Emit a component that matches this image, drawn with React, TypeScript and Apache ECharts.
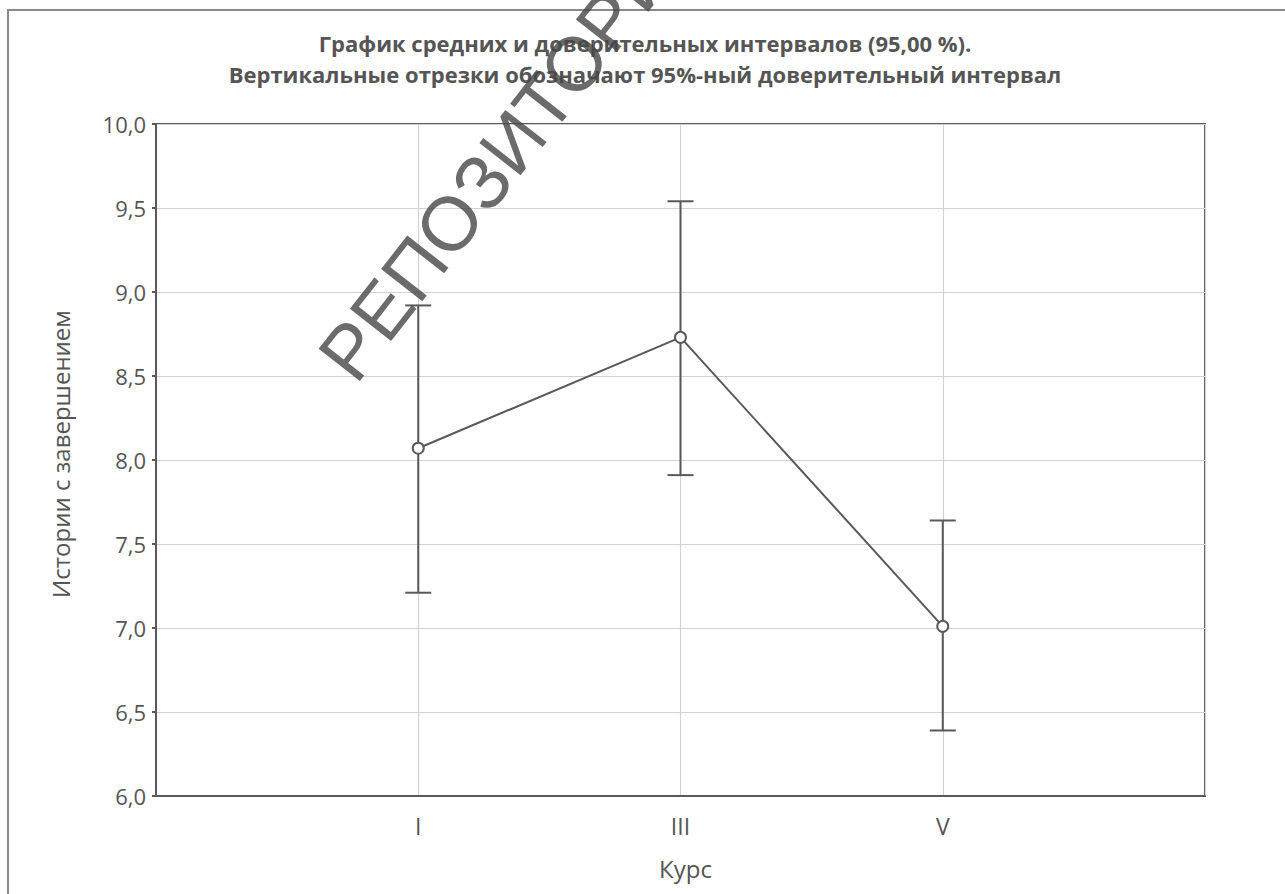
import React, { useEffect, useRef } from "react";
import * as echarts from "echarts";

const categories = ["I", "III", "V"];
const categoryPositions = [1, 2, 3];
const means = [8.07, 8.73, 7.01];
const lowerCI = [7.21, 7.91, 6.39];
const upperCI = [8.92, 9.54, 7.64];
const yTicks = [6.0, 6.5, 7.0, 7.5, 8.0, 8.5, 9.0, 9.5, 10.0];

const TEXT = "#555555";
const LINE = "#595959";
const FONT = "'Open Sans', 'Noto Sans', sans-serif";

export default function App() {
  const ref = useRef<HTMLDivElement>(null);

  useEffect(() => {
    if (!ref.current) return;
    const chart = echarts.init(ref.current, null, { renderer: "svg" });

    const meanData = categoryPositions.map((x, i) => [x, means[i]]);
    const ciData = categoryPositions.map((x, i) => [x, lowerCI[i], upperCI[i]]);

    const option: any = {
      animation: false,
      backgroundColor: "#ffffff",
      title: {
        text: "График средних и доверительных интервалов (95,00 %).\nВертикальные отрезки обозначают 95%-ный доверительный интервал",
        left: 640,
        top: 22,
        textAlign: "center",
        textStyle: {
          fontFamily: FONT,
          fontSize: 22,
          fontWeight: "bold",
          color: TEXT,
          lineHeight: 31,
          align: "center",
        },
      },
      grid: {
        left: 156,
        right: 80,
        top: 124,
        bottom: 98,
        show: true,
        borderColor: LINE,
        borderWidth: 2,
        backgroundColor: "transparent",
      },
      xAxis: {
        type: "value",
        min: 0,
        max: 4,
        interval: 1,
        name: "Курс",
        nameLocation: "middle",
        nameGap: 60,
        nameTextStyle: { fontFamily: FONT, fontSize: 24, color: TEXT, padding: [0, 0, 0, 10] },
        axisLine: { show: true, lineStyle: { color: LINE, width: 2 } },
        axisTick: { show: false },
        splitLine: { show: true, lineStyle: { color: "#d2d2d2", width: 1.2 } },
        axisLabel: {
          fontFamily: FONT,
          fontSize: 23,
          color: TEXT,
          margin: 18,
          formatter: (v: number) => {
            const idx = categoryPositions.indexOf(Math.round(v));
            return idx >= 0 && Math.abs(v - Math.round(v)) < 1e-6 ? categories[idx] : "";
          },
        },
      },
      yAxis: {
        type: "value",
        min: yTicks[0],
        max: yTicks[yTicks.length - 1],
        interval: 0.5,
        name: "Истории с завершением",
        nameLocation: "middle",
        nameGap: 84,
        nameTextStyle: { fontFamily: FONT, fontSize: 24, color: TEXT, padding: [0, 0, 0, 12] },
        axisLine: { show: true, lineStyle: { color: LINE, width: 2 } },
        axisTick: { show: true, length: 4, lineStyle: { color: LINE, width: 2 } },
        splitLine: { show: true, lineStyle: { color: "#d2d2d2", width: 1.2 } },
        axisLabel: {
          fontFamily: FONT,
          fontSize: 22,
          color: TEXT,
          margin: 10,
          formatter: (v: number) => v.toFixed(1).replace(".", ","),
        },
      },
      series: [
        {
          type: "custom",
          data: ciData,
          z: 3,
          renderItem: (params: any, api: any) => {
            const x = api.value(0);
            const lo = api.coord([x, api.value(1)]);
            const hi = api.coord([x, api.value(2)]);
            const half = 13;
            const style = { stroke: LINE, lineWidth: 2 };
            return {
              type: "group",
              children: [
                { type: "line", shape: { x1: lo[0], y1: lo[1], x2: hi[0], y2: hi[1] }, style },
                { type: "line", shape: { x1: hi[0] - half, y1: hi[1], x2: hi[0] + half, y2: hi[1] }, style },
                { type: "line", shape: { x1: lo[0] - half, y1: lo[1], x2: lo[0] + half, y2: lo[1] }, style },
              ],
            };
          },
        },
        {
          type: "line",
          data: meanData,
          z: 4,
          symbol: "emptyCircle",
          symbolSize: 11,
          lineStyle: { color: LINE, width: 2 },
          itemStyle: { color: LINE, borderColor: LINE, borderWidth: 2 },
        },
      ],
      graphic: [
        {
          type: "rect",
          shape: { x: 8, y: 10, width: 1300, height: 900 },
          style: { fill: "none", stroke: "#8a8a8a", lineWidth: 2 },
          silent: true,
          z: 0,
        },
        {
          type: "text",
          x: 365,
          y: 393,
          rotation: (52 * Math.PI) / 180,
          silent: true,
          z: 10,
          style: {
            text: "РЕПОЗИТОРИЙ",
            fontFamily: "'Liberation Sans', 'DejaVu Sans', sans-serif",
            fontSize: 76,
            fill: "rgba(70,70,70,0.8)",
            textAlign: "left",
            textVerticalAlign: "bottom",
          },
        },
      ],
    };

    chart.setOption(option);
    return () => chart.dispose();
  }, []);

  return (
    <div
      ref={ref}
      style={{ position: "absolute", left: 0, top: 0, width: 1285, height: 894 }}
    />
  );
}
